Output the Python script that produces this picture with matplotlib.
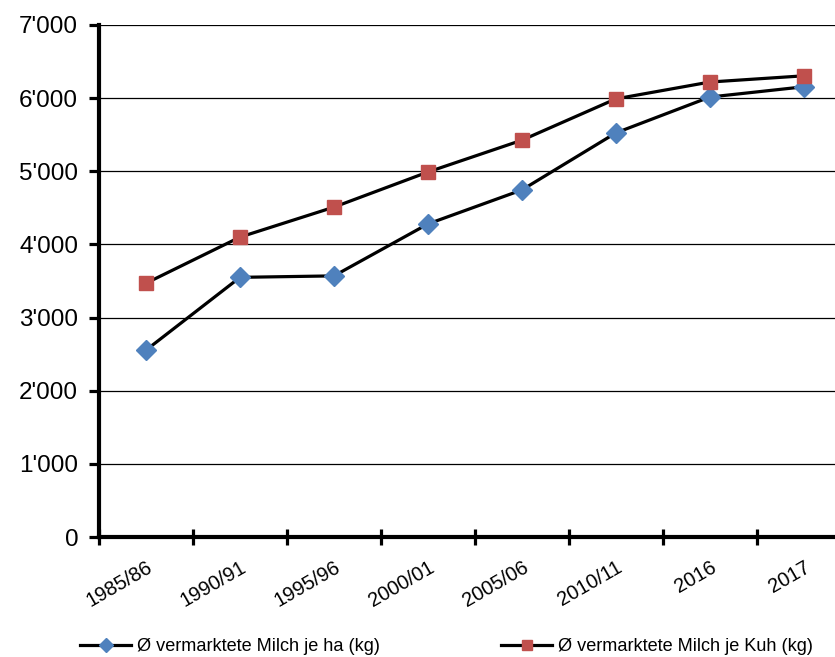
import matplotlib.pyplot as plt
import matplotlib.ticker as mticker

plt.rcParams['font.family'] = ['Liberation Sans', 'DejaVu Sans']

# Werte
perioden = ['1985/86', '1990/91', '1995/96', '2000/01', '2005/06', '2010/11', '2016', '2017']
milch_je_ha = [2555, 3550, 3570, 4280, 4745, 5525, 6015, 6155]
milch_je_kuh = [3470, 4100, 4510, 4990, 5425, 5990, 6220, 6305]

fig = plt.figure(figsize=(8.35, 6.57), dpi=100)
ax = fig.add_axes([0.1186, 0.1826, 0.9004, 0.7794])

x = range(len(perioden))
ax.plot(x, milch_je_ha, color='black', lw=2.3, marker='D', ms=10,
        mfc='#4F81BD', mec='#4F81BD', label='Ø vermarktete Milch je ha (kg)', zorder=3)
ax.plot(x, milch_je_kuh, color='black', lw=2.3, marker='s', ms=9.5,
        mfc='#C0504D', mec='#C0504D', label='Ø vermarktete Milch je Kuh (kg)', zorder=3)

ax.set_xlim(-0.5, 7.5)
ax.set_ylim(0, 7000)
ax.yaxis.set_major_locator(mticker.MultipleLocator(1000))
ax.yaxis.set_major_formatter(mticker.FuncFormatter(lambda v, p: f"{int(v):,}".replace(',', "'")))
ax.grid(axis='y', color='black', lw=0.9)
ax.set_axisbelow(True)

# Striche zwischen den Kategorien, Beschriftung in der Mitte
ax.set_xticks([i + 0.5 for i in range(-1, 8)])
ax.set_xticklabels([])
ax.set_xticks(list(x), minor=True)
ax.set_xticklabels(perioden, minor=True, rotation=30, ha='right', rotation_mode='anchor', fontsize=14.5)
ax.tick_params(axis='x', which='minor', length=0, pad=15)
ax.tick_params(axis='x', which='major', direction='inout', length=11, width=2.3)
ax.tick_params(axis='y', direction='out', length=7, width=2.3, labelsize=17.5, pad=8)

for s in ['top', 'right']:
    ax.spines[s].set_visible(False)
ax.spines['left'].set_linewidth(3)
ax.spines['bottom'].set_linewidth(3)

fig.legend(loc='center left', bbox_to_anchor=(0.096, 0.016), ncol=2, frameon=False,
           fontsize=13.1, handlelength=2.8, handletextpad=0.3, columnspacing=6.7,
           markerscale=0.75, borderpad=0, borderaxespad=0)

plt.savefig('out.png', dpi=100)
